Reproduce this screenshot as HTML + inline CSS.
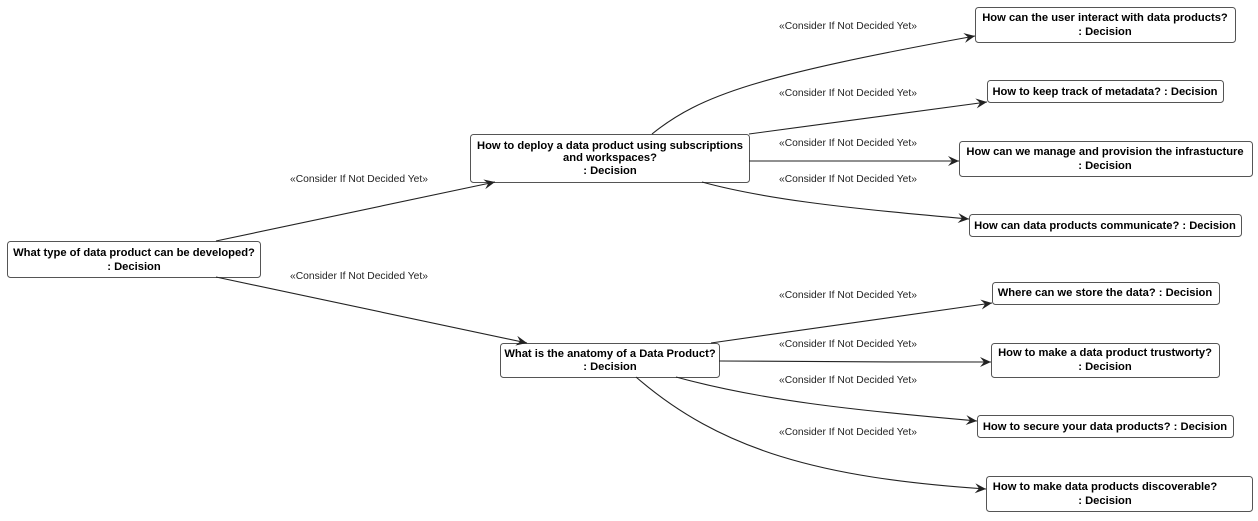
<!DOCTYPE html>
<html><head><meta charset="utf-8"><style>
html,body{margin:0;padding:0;background:#fff;}
svg text{font-family:"Liberation Sans",sans-serif;}
.b{font-size:11.2px;font-weight:bold;fill:#000;}
.l{font-size:10.3px;fill:#222;}
rect{fill:#fff;stroke:#555;stroke-width:1;}
path.e{fill:none;stroke:#222;stroke-width:1.1;}
</style></head><body>
<svg width="1258" height="516" viewBox="0 0 1258 516" xmlns="http://www.w3.org/2000/svg">
<defs><marker id="a" markerWidth="12" markerHeight="10" refX="11" refY="5" orient="auto" markerUnits="userSpaceOnUse">
<path d="M0,0 L11,5 L0,10 L4,5 Z" fill="#222"/></marker></defs>

<rect x="7.5" y="241.5" width="253" height="36" rx="3"/>
<text class="b" x="134" y="256" text-anchor="middle">What type of data product can be developed?</text>
<text class="b" x="134" y="270" text-anchor="middle">: Decision</text>

<rect x="470.5" y="134.5" width="279" height="48" rx="3"/>
<text class="b" x="610" y="149" text-anchor="middle">How to deploy a data product using subscriptions</text>
<text class="b" x="610" y="161" text-anchor="middle">and workspaces?</text>
<text class="b" x="610" y="174" text-anchor="middle">: Decision</text>

<rect x="500.5" y="343.5" width="219" height="34" rx="3"/>
<text class="b" x="610" y="357" text-anchor="middle">What is the anatomy of a Data Product?</text>
<text class="b" x="610" y="370" text-anchor="middle">: Decision</text>

<rect x="975.5" y="7.5" width="260" height="35" rx="3"/>
<text class="b" x="1105" y="21" text-anchor="middle">How can the user interact with data products?</text>
<text class="b" x="1105" y="35" text-anchor="middle">: Decision</text>

<rect x="987.5" y="80.5" width="236" height="22" rx="3"/>
<text class="b" x="1105" y="95" text-anchor="middle">How to keep track of metadata? : Decision</text>

<rect x="959.5" y="141.5" width="293" height="35" rx="3"/>
<text class="b" x="1105" y="155" text-anchor="middle">How can we manage and provision the infrastucture</text>
<text class="b" x="1105" y="169" text-anchor="middle">: Decision</text>

<rect x="969.5" y="214.5" width="272" height="22" rx="3"/>
<text class="b" x="1105" y="229" text-anchor="middle">How can data products communicate? : Decision</text>

<rect x="992.5" y="282.5" width="227" height="22" rx="3"/>
<text class="b" x="1105" y="296" text-anchor="middle">Where can we store the data? : Decision</text>

<rect x="991.5" y="343.5" width="228" height="34" rx="3"/>
<text class="b" x="1105" y="356" text-anchor="middle">How to make a data product trustworty?</text>
<text class="b" x="1105" y="370" text-anchor="middle">: Decision</text>

<rect x="977.5" y="415.5" width="256" height="22" rx="3"/>
<text class="b" x="1105" y="430" text-anchor="middle">How to secure your data products? : Decision</text>

<rect x="986.5" y="476.5" width="266" height="35" rx="3"/>
<text class="b" x="1105" y="490" text-anchor="middle">How to make data products discoverable?</text>
<text class="b" x="1105" y="504" text-anchor="middle">: Decision</text>

<path class="e" d="M216,241 L495,182" marker-end="url(#a)"/>
<path class="e" d="M216,277 L527,343" marker-end="url(#a)"/>
<path class="e" d="M652,134 C700,95 760,75 975,36" marker-end="url(#a)"/>
<path class="e" d="M749,134 L987,102" marker-end="url(#a)"/>
<path class="e" d="M749,161 L959,161" marker-end="url(#a)"/>
<path class="e" d="M702,182 C760,198 840,208 969,219" marker-end="url(#a)"/>
<path class="e" d="M711,343 L992,303" marker-end="url(#a)"/>
<path class="e" d="M719,361 C800,362 900,362 991,362" marker-end="url(#a)"/>
<path class="e" d="M676,377 C760,400 850,410 977,421" marker-end="url(#a)"/>
<path class="e" d="M636,377 C720,450 820,478 986,489" marker-end="url(#a)"/>

<text class="l" x="290" y="182">«Consider If Not Decided Yet»</text>
<text class="l" x="290" y="279">«Consider If Not Decided Yet»</text>
<text class="l" x="779" y="29">«Consider If Not Decided Yet»</text>
<text class="l" x="779" y="96">«Consider If Not Decided Yet»</text>
<text class="l" x="779" y="146">«Consider If Not Decided Yet»</text>
<text class="l" x="779" y="182">«Consider If Not Decided Yet»</text>
<text class="l" x="779" y="298">«Consider If Not Decided Yet»</text>
<text class="l" x="779" y="347">«Consider If Not Decided Yet»</text>
<text class="l" x="779" y="383">«Consider If Not Decided Yet»</text>
<text class="l" x="779" y="435">«Consider If Not Decided Yet»</text>
</svg>
</body></html>
